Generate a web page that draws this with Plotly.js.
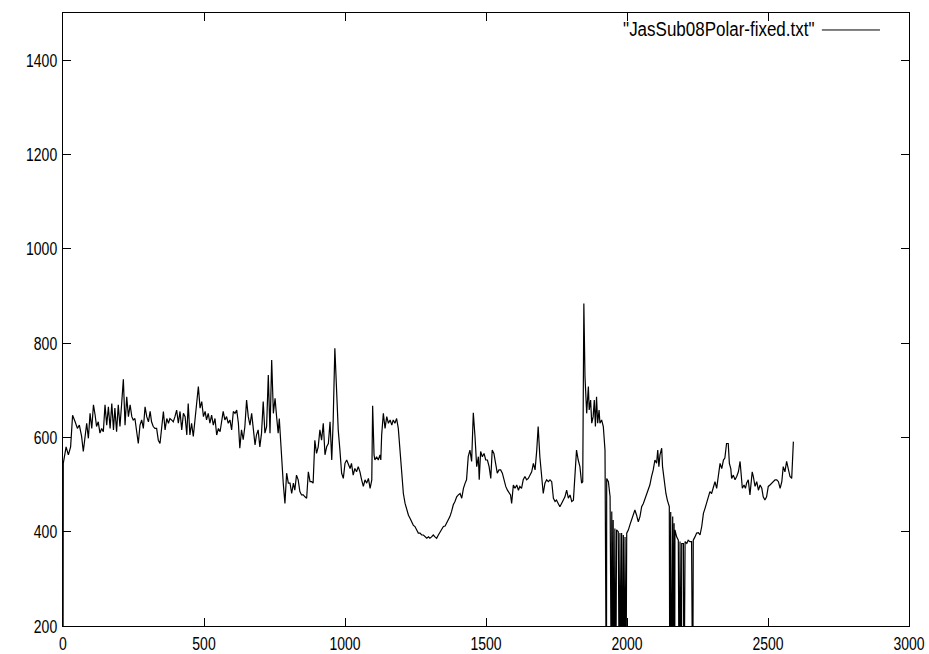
<!DOCTYPE html>
<html>
<head>
<meta charset="utf-8">
<script src="https://cdn.plot.ly/plotly-3.0.1.min.js"></script>
<style>
  html, body { margin: 0; padding: 0; background: #ffffff; }
  #plot { width: 929px; height: 654px; }
</style>
</head>
<body>
<div id="plot"></div>
<script>
// Sample index (x) and measured value (y) from JasSub08Polar-fixed.txt.
// Values of 0 are dropouts in the recording; they fall below the visible y range.
const sampleX = [
  0, 1, 11, 19, 27, 34, 43, 51, 58, 66, 72, 78, 84, 90, 96, 102, 108, 114, 119, 125,
  131, 137, 143, 149, 155, 161, 167, 173, 179, 184, 190, 196, 202, 208, 214, 220, 226, 232, 238, 244,
  249, 255, 261, 267, 273, 279, 285, 291, 297, 303, 309, 314, 320, 326, 332, 338, 344, 350, 356, 362,
  368, 374, 379, 385, 391, 397, 403, 409, 415, 421, 427, 433, 439, 444, 450, 456, 462, 468, 474, 480,
  486, 492, 498, 504, 509, 515, 521, 527, 533, 539,
  545, 551, 557, 562, 568, 574, 580, 586, 592, 598, 604, 610, 616, 622, 627, 633, 639, 645, 651, 657,
  663, 669, 675, 681, 686, 692, 698, 704, 710, 716, 722, 728, 734, 740, 746, 752, 757, 763, 767, 775,
  781, 787, 793, 799, 805, 811, 817, 822, 828, 834, 840, 846, 852, 858, 864, 870, 876, 882, 887, 893,
  899, 905, 911, 917, 923, 929, 935, 941, 947, 953, 958, 964, 970, 976, 982, 988, 994, 1000, 1006, 1012,
  1018, 1023, 1029, 1035, 1041, 1047, 1053, 1059, 1065,
  1071, 1077, 1083, 1089, 1095, 1098, 1103, 1106, 1112, 1118, 1124, 1127, 1130, 1136, 1142, 1148, 1154, 1160, 1166, 1171,
  1177, 1183, 1189, 1195, 1201, 1207, 1213, 1219, 1225, 1231, 1236, 1242, 1248, 1254, 1260, 1266, 1272, 1278, 1284, 1290,
  1296, 1301, 1307, 1313, 1319, 1325, 1331, 1337, 1343, 1349, 1355, 1361, 1366, 1372, 1378, 1384, 1390, 1396, 1402, 1408,
  1414, 1420, 1426, 1431, 1437, 1443, 1449, 1455, 1461, 1467, 1473, 1476, 1481, 1487, 1493, 1499, 1505, 1511, 1517, 1522,
  1528, 1534, 1540, 1546, 1552, 1558, 1564, 1570, 1576, 1582, 1587, 1591, 1597,
  1603, 1609, 1615, 1620, 1626, 1632, 1638, 1644, 1650, 1656, 1662, 1668, 1674, 1680, 1685, 1691, 1697, 1703, 1709, 1715,
  1721, 1727, 1733, 1739, 1745, 1750, 1756, 1762, 1768, 1774, 1780, 1786, 1792, 1798, 1804, 1810, 1815, 1821, 1827, 1833,
  1839, 1843, 1847, 1851, 1857, 1863, 1866, 1871, 1875, 1880, 1884, 1888, 1892, 1896, 1901, 1904, 1910, 1916, 1922,
  1927, 1928, 1934, 1940, 1945, 1946, 1949, 1951, 1954, 1957, 1960, 1963, 1969, 1973, 1975, 1978, 1981, 1985, 1987, 1991,
  1993, 1996, 1999, 2005, 2010, 2016, 2022, 2028, 2034, 2040, 2046, 2052, 2058, 2064, 2070, 2076, 2081, 2087, 2093, 2099,
  2105, 2109, 2113,
  2117, 2123, 2126, 2131, 2138, 2143, 2150, 2152, 2155, 2158, 2162, 2165, 2167, 2169, 2170, 2176, 2182, 2185, 2188, 2193,
  2194, 2200, 2202, 2206, 2212, 2217, 2223, 2229, 2233, 2235, 2241, 2247, 2253, 2259, 2265, 2271, 2277, 2282, 2288, 2294,
  2300, 2306, 2312, 2318, 2324, 2330, 2336, 2342, 2347, 2353, 2359, 2363, 2368, 2371, 2377, 2383, 2389, 2395, 2401, 2404,
  2409, 2415, 2420, 2424, 2430, 2436, 2440, 2444, 2448, 2454, 2460, 2466, 2472, 2478, 2483, 2489, 2495, 2501, 2507, 2513,
  2519, 2525, 2531, 2537, 2543, 2549, 2554, 2560, 2566, 2572, 2578, 2584, 2590
];
const sampleY = [
  0, 545, 580, 563, 580, 647, 633, 619, 626, 602, 570, 602, 630, 598, 651, 619, 669, 647, 623, 633,
  609, 619, 612, 669, 626, 665, 619, 672, 616, 662, 612, 669, 623, 672, 723, 626, 686, 644, 669, 644,
  637, 640, 616, 587, 626, 637, 619, 665, 644, 633, 655, 633, 623, 619, 619, 594, 587, 616, 655, 616,
  640, 630, 640, 637, 633, 644, 658, 630, 655, 616, 651, 644, 605, 672, 605, 630, 602, 637, 672, 708,
  662, 676, 644, 655, 637, 651, 630, 647, 626, 640,
  605, 619, 612, 630, 655, 637, 644, 630, 637, 616, 655, 651, 658, 630, 577, 616, 595, 623, 679, 644,
  626, 651, 616, 584, 605, 616, 580, 609, 676, 609, 623, 732, 609, 764, 651, 683, 647, 609, 640, 552,
  503, 460, 524, 503, 503, 481, 503, 488, 520, 510, 485, 478, 478, 474, 471, 527, 506, 506, 503, 594,
  566, 580, 616, 594, 630, 563, 580, 587, 633, 552, 633, 789, 704, 616, 573, 524, 513, 545, 552, 541,
  534, 545, 520, 534, 527, 538, 527, 510, 496,
  510, 503, 513, 492, 510, 667, 563, 552, 559, 552, 563, 552, 605, 651, 619, 644, 630, 637, 626, 637,
  630, 640, 619, 573, 531, 481, 460, 446, 435, 428, 421, 414, 411, 404, 397, 397, 393, 393, 389, 386,
  389, 386, 389, 393, 389, 386, 393, 400, 404, 411, 412, 418, 425, 432, 443, 457, 464, 474, 478, 481,
  471, 492, 503, 510, 559, 573, 549, 652, 602, 538, 559, 510, 570, 559, 566, 552, 552, 538, 513, 573,
  566, 541, 524, 531, 531, 524, 506, 496, 488, 481, 478, 460, 499,
  492, 499, 488, 496, 492, 510, 517, 510, 513, 520, 527, 545, 531, 573, 623, 559, 510, 481, 503, 510,
  506, 510, 506, 471, 464, 467, 460, 453, 460, 467, 474, 488, 471, 478, 464, 467, 517, 573, 552, 538,
  503, 506, 884, 729, 651, 708, 658, 679, 630, 644, 679, 623, 686, 630, 658, 630, 637, 623, 573,
  0, 513, 506, 474, 0, 443, 0, 425, 0, 407, 0, 404, 400, 0, 397, 0, 397, 0, 393, 0,
  389, 0, 397, 404, 414, 425, 432, 446, 435, 421, 432, 453, 460, 471, 481, 488, 499, 517, 531, 552,
  545, 573, 538,
  563, 577, 538, 510, 481, 467, 453, 0, 442, 0, 432, 0, 418, 0, 404, 389, 382, 0, 379, 0,
  375, 375, 0, 379, 375, 382, 379, 379, 0, 382, 389, 397, 398, 393, 411, 439, 450, 460, 474, 485,
  481, 492, 506, 492, 517, 545, 534, 552, 556, 587, 587, 545, 534, 513, 520, 510, 517, 527, 549, 520,
  492, 499, 492, 503, 510, 478, 510, 527, 517, 496, 506, 488, 499, 492, 474, 467, 474, 496, 499, 503,
  506, 510, 510, 506, 492, 506, 538, 527, 549, 531, 517, 513, 591
];

// Axis ticks
const xTickValues = [0, 500, 1000, 1500, 2000, 2500, 3000];
const yTickValues = [200, 400, 600, 800, 1000, 1200, 1400];
const seriesName = '"JasSub08Polar-fixed.txt"';

const FONT = '"Liberation Sans", Arial, Helvetica, sans-serif';

const frameAxis = {
  showline: true,
  linecolor: '#000000',
  linewidth: 1,
  mirror: 'ticks',
  ticks: 'inside',
  ticklen: 8,
  tickwidth: 1,
  tickcolor: '#000000',
  showgrid: false,
  zeroline: false,
  tickfont: { family: FONT, size: 14, color: '#000000' }
};

const trace = {
  x: sampleX,
  y: sampleY,
  type: 'scatter',
  mode: 'lines',
  name: seriesName,
  line: { color: '#000000', width: 1.2 },
  showlegend: false,
  hoverinfo: 'skip'
};

const layout = {
  width: 929,
  height: 654,
  margin: { l: 63, r: 20, t: 13, b: 28, pad: 0 },
  paper_bgcolor: '#ffffff',
  plot_bgcolor: '#ffffff',
  font: { family: FONT, size: 14, color: '#000000' },
  xaxis: Object.assign({}, frameAxis, {
    range: [0, 3000],
    tickmode: 'array',
    tickvals: xTickValues,
    ticktext: xTickValues.map(String),
    ticklabelstandoff: 4
  }),
  yaxis: Object.assign({}, frameAxis, {
    range: [200, 1500],
    tickmode: 'array',
    tickvals: yTickValues,
    ticktext: yTickValues.map(String),
    ticklabelstandoff: 2
  }),
  // Key in the upper right: title on the left, line sample on the right
  annotations: [{
    xref: 'paper', yref: 'paper',
    x: 0.8912, y: 0.9723,
    xanchor: 'right', yanchor: 'middle',
    text: seriesName,
    showarrow: false,
    font: { family: FONT, size: 17, color: '#000000' }
  }],
  shapes: [{
    type: 'line',
    xref: 'paper', yref: 'paper',
    x0: 0.897, x1: 0.9657, y0: 0.9723, y1: 0.9723,
    line: { color: '#000000', width: 1 }
  }]
};

// Give the labels the tall, narrow look of the terminal font by stretching
// each one vertically about its own centre.
function stretchText(selector, factor) {
  document.querySelectorAll(selector).forEach(function (el) {
    const bb = el.getBBox();
    const cx = bb.x + bb.width / 2;
    const cy = bb.y + bb.height / 2;
    const prev = el.getAttribute('transform') || '';
    el.setAttribute('transform',
      prev + ' translate(' + cx + ',' + cy + ') scale(1,' + factor + ') translate(' + (-cx) + ',' + (-cy) + ')');
  });
}

Plotly.newPlot('plot', [trace], layout, { staticPlot: true, displayModeBar: false }).then(function () {
  stretchText('#plot .xtick text, #plot .ytick text', 1.35);
  stretchText('#plot .annotation-text', 1.15);
});
</script>
</body>
</html>
